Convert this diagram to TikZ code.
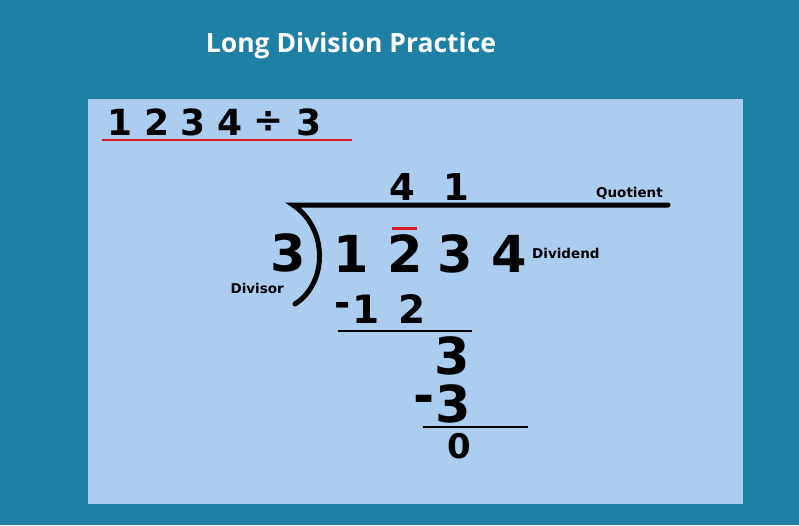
\documentclass[tikz,border=0pt]{standalone}
\usepackage{fontspec}
\setmainfont{DejaVu Sans}
\newfontfamily\titlefont{Open Sans}
\usepackage{tikz}
\usetikzlibrary{positioning}
\usepackage{xcolor}
\definecolor{TealBg} {RGB}{31, 128, 166}
\definecolor{SkyP}   {RGB}{170, 205, 240}
\definecolor{RedL}   {RGB}{222, 24, 36}
\newcommand{\fs}[1]{\fontsize{#1}{#1}\selectfont\bfseries}

\begin{document}
\begin{tikzpicture}[x=1pt,y=-1pt,
    big/.style={font=\fs{51},inner sep=0pt},
    mid/.style={font=\fs{37},inner sep=0pt},
    lbl/.style={font=\fs{13.5},inner sep=0pt}]
  % background and panel
  \fill[TealBg] (0,0) rectangle (799,525);
  \fill[SkyP] (88,99) rectangle (743,504);
  \node[white,font=\titlefont\fontsize{26.5}{26.5}\selectfont\bfseries] (title) at (351,46) {Long Division Practice};

  % the problem
  \foreach \x/\d [count=\i] in {120/1,157/2,193/3,230/4,269/÷,309/3}{
    \node[mid,font=\fs{36}] (t\i) at (\x,122) {\d};}
  \draw[RedL,line width=2pt] (102,140)--(352,140);

  % quotient and bracket
  \node[mid] (q4) at (402,187) {4};
  \node[mid] (q1) at (456,187) {1};
  \draw[line width=5pt,line cap=round] (668,205)--(293,205)
    .. controls (328,228) and (328,283) .. (295,304);
  \node[lbl,anchor=east] (lq) at (663,193) {Quotient};

  % divisor and dividend
  \node[big] (dv) at (288,253) {3};
  \node[lbl,anchor=east] (lv) at (284,288) {Divisor};
  \foreach \x/\d [count=\i] in {351/1,405/2,455/3,509/4}{
    \node[big] (d\i) at (\x,254) {\d};}
  \draw[RedL,line width=3pt] (392,228)--(417,228);
  \node[lbl,anchor=west] (ld) at (532,253) {Dividend};

  % working
  \node[mid,font=\fs{39}] (s0) at (343,309) {-};
  \node[mid,font=\fs{39}] (s1) at (366,309) {1};
  \node[mid,font=\fs{39}] (s2) at (412,309) {2};
  \draw[line width=1.6pt] (338,331)--(472,331);
  \node[big] (r3) at (452,356) {3};
  \node[big] (m0) at (424,404) {-};
  \node[big] (m3) at (453,404) {3};
  \draw[line width=1.6pt] (423,427)--(528,427);
  \node[mid,font=\fs{34}] (r0) at (459,446) {0};
\end{tikzpicture}
\end{document}
